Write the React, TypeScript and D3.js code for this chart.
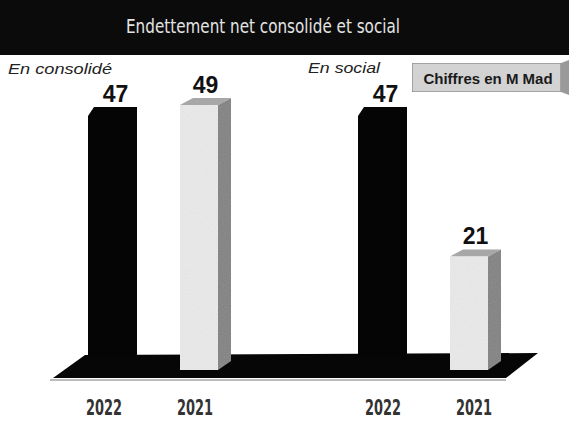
import React from "react";
import * as d3 from "d3";

const W = 569;
const H = 421;

const title = "Endettement net consolidé et social";
const groups = ["En consolidé", "En social"];
const years = ["2022", "2021"];
const values2022 = [47, 47];
const values2021 = [49, 21];
const unitLabel = "Chiffres en M Mad";

export default function App() {
  const groupX = d3.scalePoint<string>().domain(groups).range([88, 358]);
  const inner = d3.scalePoint<string>().domain(years).range([0, 92]);
  const labelGroupX = d3.scalePoint<string>().domain(groups).range([104, 383]);
  const labelInner = d3.scalePoint<string>().domain(years).range([0, 91]);
  const yBlack = d3.scaleLinear().domain([0, 47]).range([358, 107]);
  const yLight = d3.scaleLinear().domain([0, 49]).range([370, 105]);

  const blackW = 49;
  const lightW = 38;
  const dx = 13;
  const dy = -7;

  const bars: any[] = [];
  groups.forEach((g, gi) => {
    years.forEach((yr) => {
      const v = yr === "2022" ? values2022[gi] : values2021[gi];
      bars.push({
        g, yr, v,
        x: (groupX(g) as number) + (inner(yr) as number),
        lx: (labelGroupX(g) as number) + (labelInner(yr) as number),
      });
    });
  });

  const floor = "M53,378 L85,355 L538,353 L506,378 Z";
  const floorShadow = "M50,380 L506,380";

  return (
    <svg width={W} height={H} style={{ position: "absolute", left: 0, top: 0, background: "#fff" }}>
      <defs>
        <filter id="grain" x="0" y="0" width="100%" height="100%">
          <feTurbulence type="fractalNoise" baseFrequency="0.9" numOctaves="2" seed="3" result="n" />
          <feColorMatrix in="n" type="matrix" values="0 0 0 0 0.5  0 0 0 0 0.5  0 0 0 0 0.5  0 0 0 0.25 0" result="g" />
          <feComposite in="g" in2="SourceGraphic" operator="in" result="gc" />
          <feMerge>
            <feMergeNode in="SourceGraphic" />
            <feMergeNode in="gc" />
          </feMerge>
        </filter>
      </defs>
      <rect x={0} y={0} width={W} height={H} fill="#fff" />
      {/* title bar */}
      <rect x={0} y={0} width={W} height={55} fill="#0b0b0b" />
      <text x={263} y={33} fill="#e4e4e4" fontSize={19} textAnchor="middle"
        fontFamily="'Liberation Sans Narrow', 'DejaVu Sans Condensed', sans-serif"
        textLength={274} lengthAdjust="spacingAndGlyphs">{title}</text>

      {/* group labels */}
      <text x={8} y={74} fontSize={15} fontStyle="italic" fontFamily="'Liberation Sans', Arial, sans-serif" fill="#222"
        textLength={104} lengthAdjust="spacingAndGlyphs">{groups[0]}</text>
      <text x={308} y={73} fontSize={15} fontStyle="italic" fontFamily="'Liberation Sans', Arial, sans-serif" fill="#222"
        textLength={72} lengthAdjust="spacingAndGlyphs">{groups[1]}</text>

      {/* unit box */}
      <rect x={412} y={63} width={149} height={29} fill="#d6d6d6" stroke="#8c8c8c" strokeWidth={1.5} filter="url(#grain)" />
      <path d="M561,63 L569,60 L569,95 L561,92 Z" fill="#9a9a9a" />
      <text x={488} y={84} fontSize={15} fontWeight="bold" textAnchor="middle" fill="#1a1a1a"
        fontFamily="'Liberation Sans', Arial, sans-serif">{unitLabel}</text>

      {/* floor */}
      <path d={floorShadow} stroke="#bbb" strokeWidth={2} />
      <path d={floor} fill="#060606" />

      {bars.map((b, i) => {
        if (b.yr === "2022") {
          const top = yBlack(b.v);
          const base = yBlack(0);
          const x = b.x;
          const pts = `${x},${top + 9} ${x + 6},${top} ${x + blackW},${top} ${x + blackW},${base} ${x},${base}`;
          return (
            <g key={i}>
              <polygon points={pts} fill="#050505" />
              <text x={x + blackW / 2 + 3} y={top - 5} textAnchor="middle" fontSize={23} fontWeight="bold"
                fontFamily="'Liberation Sans', Arial, sans-serif" fill="#111">{b.v}</text>
            </g>
          );
        }
        const top = yLight(b.v);
        const base = yLight(0);
        const x = b.x;
        const front = `${x},${top} ${x + lightW},${top} ${x + lightW},${base} ${x},${base}`;
        const side = `${x + lightW},${top} ${x + lightW + dx},${top + dy} ${x + lightW + dx},${base + dy - 2} ${x + lightW},${base}`;
        const topFace = `${x},${top} ${x + dx},${top + dy} ${x + lightW + dx},${top + dy} ${x + lightW},${top}`;
        return (
          <g key={i}>
            <polygon points={side} fill="#7e7e7e" filter="url(#grain)" />
            <polygon points={topFace} fill="#a4a4a4" filter="url(#grain)" />
            <polygon points={front} fill="#ececec" filter="url(#grain)" />
            <text x={x + (lightW + dx) / 2} y={top + dy - 5} textAnchor="middle" fontSize={23} fontWeight="bold"
              fontFamily="'Liberation Sans', Arial, sans-serif" fill="#111">{b.v}</text>
          </g>
        );
      })}

      {/* year labels */}
      {bars.map((b, i) => (
        <text key={"y" + i} x={b.lx} y={415} textAnchor="middle" fontSize={21} fontWeight="bold" fill="#333"
          fontFamily="'Liberation Sans Narrow', 'DejaVu Sans Condensed', sans-serif"
          textLength={36} lengthAdjust="spacingAndGlyphs">{b.yr}</text>
      ))}
    </svg>
  );
}
